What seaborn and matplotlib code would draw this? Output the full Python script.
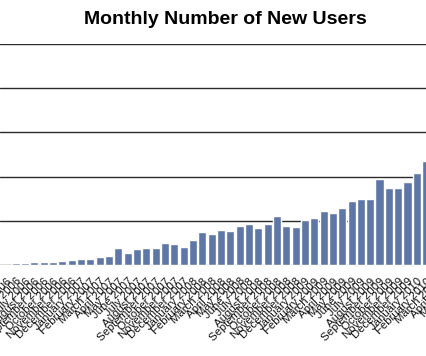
import matplotlib
matplotlib.use("Agg")
import matplotlib.pyplot as plt
import seaborn as sns
import pandas as pd

months = [
    "May 2006", "June 2006", "July 2006", "August 2006", "September 2006",
    "October 2006", "November 2006", "December 2006", "January 2007",
    "February 2007", "March 2007", "April 2007", "May 2007", "June 2007",
    "July 2007", "August 2007", "September 2007", "October 2007",
    "November 2007", "December 2007", "January 2008", "February 2008",
    "March 2008", "April 2008", "May 2008", "June 2008", "July 2008",
    "August 2008", "September 2008", "October 2008", "November 2008",
    "December 2008", "January 2009", "February 2009", "March 2009",
    "April 2009", "May 2009", "June 2009", "July 2009", "August 2009",
    "September 2009", "October 2009", "November 2009", "December 2009",
    "January 2010", "February 2010",
]
new_users = [
    5, 26, 26, 34, 34, 34, 45, 53, 64, 64,
    90, 105, 187, 139, 184, 192, 192, 249, 238, 204,
    286, 377, 351, 396, 381, 441, 464, 422, 467, 554,
    441, 430, 512, 532, 614, 588, 645, 724, 743, 750,
    969, 874, 874, 942, 1041, 1176,
]
# categories continuing past the cropped right edge (only their labels show)
extra_months = ["March 2010", "April 2010", "May 2010", "June 2010"]
tick_labels = months + extra_months
grid_values = [0, 500, 1000, 1500, 2000, 2500]

df = pd.DataFrame({"month": months, "users": new_users})

sns.set_theme(style="white")
plt.rcParams["font.family"] = ["Liberation Sans", "DejaVu Sans"]

W, H = 426, 356
px_per_cat = 9.33
x_lo, x_hi = -0.686, len(tick_labels) - 0.5
ax_w_px = (x_hi - x_lo) * px_per_cat

fig = plt.figure(figsize=(W / 100, H / 100), dpi=100)
ax = fig.add_axes([0, (H - 265) / H, ax_w_px / W, (265 - 44) / H])

sns.barplot(data=df, x="month", y="users", order=tick_labels,
            color="#5f77a6", saturation=1, width=0.88, ax=ax, zorder=2)

ax.set_xlim(x_lo, x_hi)
ax.set_ylim(0, 2500)
ax.set_yticks(grid_values)
ax.yaxis.grid(True, color="#2a2a2a", linewidth=1.0, zorder=1)
ax.set_axisbelow(True)
for s in ax.spines.values():
    s.set_visible(False)
ax.tick_params(left=False, labelleft=False, bottom=False, pad=2)
ax.set_xlabel("")
ax.set_ylabel("")
for lbl in ax.get_xticklabels():
    lbl.set_rotation(45)
    lbl.set_ha("right")
    lbl.set_rotation_mode("anchor")
    lbl.set_fontsize(8.2)
    lbl.set_color("#111111")

fig.text(225 / W, 1 - 20 / H, "Monthly Number of New Users", ha="center",
         va="center", fontsize=14, fontweight="bold", color="#000000")

fig.savefig("out.png", dpi=100)
